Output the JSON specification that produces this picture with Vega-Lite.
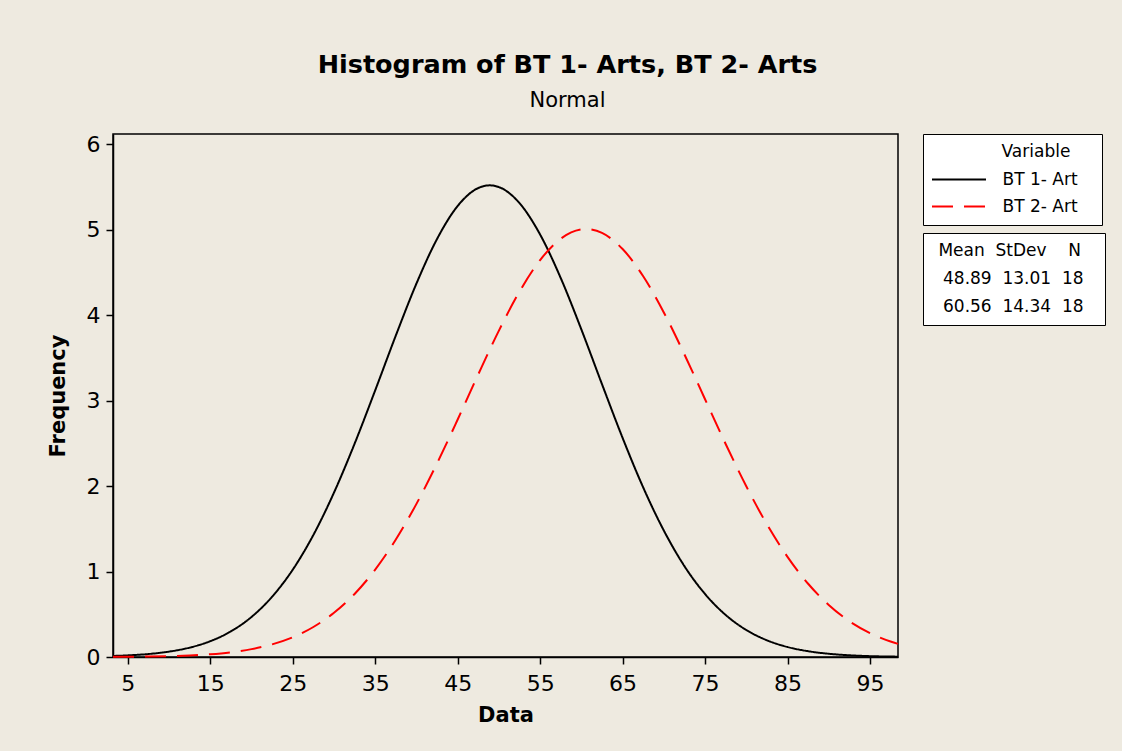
{
  "$schema": "https://vega.github.io/schema/vega-lite/v6.json",
  "autosize": {"type": "none"},
  "padding": {"left": 113, "top": 134, "right": 224, "bottom": 94},
  "width": 785,
  "height": 523,
  "background": "#EEEAE0",
  "title": {
    "text": "Histogram of BT 1- Arts, BT 2- Arts",
    "subtitle": "Normal",
    "anchor": "middle",
    "frame": "group",
    "dx": 62,
    "offset": 22,
    "font": "DejaVu Sans",
    "fontSize": 25.5,
    "fontWeight": "bold",
    "color": "black",
    "subtitleFont": "DejaVu Sans",
    "subtitleFontSize": 21,
    "subtitleColor": "black",
    "subtitlePadding": 12
  },
  "config": {
    "font": "DejaVu Sans",
    "view": {"stroke": "black", "strokeWidth": 1.5, "fill": "white"},
    "axis": {
      "grid": false,
      "domainColor": "black",
      "domainWidth": 1.5,
      "tickColor": "black",
      "tickWidth": 1.5,
      "tickSize": 7,
      "labelColor": "black",
      "labelFont": "DejaVu Sans",
      "labelFontSize": 22,
      "titleColor": "black",
      "titleFont": "DejaVu Sans",
      "titleFontSize": 21,
      "titleFontWeight": "bold"
    },
    "legend": {
      "orient": "right",
      "offset": 21,
      "strokeColor": "black",
      "fillColor": "white",
      "padding": 10,
      "labelFont": "DejaVu Sans",
      "labelFontSize": 17,
      "labelColor": "black",
      "titleFont": "DejaVu Sans",
      "titleFontSize": 17,
      "titleFontWeight": "normal",
      "titleColor": "black"
    }
  },
  "layer": [
    {
      "data": {
        "values": [
          {"x": 3.2, "y": 0.012, "Variable": "BT 1- Art"},
          {"x": 5, "y": 0.019, "Variable": "BT 1- Art"},
          {"x": 7.5, "y": 0.035, "Variable": "BT 1- Art"},
          {"x": 10, "y": 0.063, "Variable": "BT 1- Art"},
          {"x": 12.5, "y": 0.110, "Variable": "BT 1- Art"},
          {"x": 15, "y": 0.185, "Variable": "BT 1- Art"},
          {"x": 17.5, "y": 0.300, "Variable": "BT 1- Art"},
          {"x": 20, "y": 0.469, "Variable": "BT 1- Art"},
          {"x": 22.5, "y": 0.706, "Variable": "BT 1- Art"},
          {"x": 25, "y": 1.022, "Variable": "BT 1- Art"},
          {"x": 27.5, "y": 1.428, "Variable": "BT 1- Art"},
          {"x": 30, "y": 1.924, "Variable": "BT 1- Art"},
          {"x": 32.5, "y": 2.496, "Variable": "BT 1- Art"},
          {"x": 35, "y": 3.121, "Variable": "BT 1- Art"},
          {"x": 37.5, "y": 3.762, "Variable": "BT 1- Art"},
          {"x": 40, "y": 4.370, "Variable": "BT 1- Art"},
          {"x": 42.5, "y": 4.892, "Variable": "BT 1- Art"},
          {"x": 45, "y": 5.278, "Variable": "BT 1- Art"},
          {"x": 47.5, "y": 5.488, "Variable": "BT 1- Art"},
          {"x": 48.89, "y": 5.519, "Variable": "BT 1- Art"},
          {"x": 50, "y": 5.499, "Variable": "BT 1- Art"},
          {"x": 52.5, "y": 5.311, "Variable": "BT 1- Art"},
          {"x": 55, "y": 4.943, "Variable": "BT 1- Art"},
          {"x": 57.5, "y": 4.434, "Variable": "BT 1- Art"},
          {"x": 60, "y": 3.833, "Variable": "BT 1- Art"},
          {"x": 62.5, "y": 3.193, "Variable": "BT 1- Art"},
          {"x": 65, "y": 2.564, "Variable": "BT 1- Art"},
          {"x": 67.5, "y": 1.984, "Variable": "BT 1- Art"},
          {"x": 70, "y": 1.480, "Variable": "BT 1- Art"},
          {"x": 72.5, "y": 1.063, "Variable": "BT 1- Art"},
          {"x": 75, "y": 0.737, "Variable": "BT 1- Art"},
          {"x": 77.5, "y": 0.492, "Variable": "BT 1- Art"},
          {"x": 80, "y": 0.316, "Variable": "BT 1- Art"},
          {"x": 82.5, "y": 0.196, "Variable": "BT 1- Art"},
          {"x": 85, "y": 0.117, "Variable": "BT 1- Art"},
          {"x": 87.5, "y": 0.068, "Variable": "BT 1- Art"},
          {"x": 90, "y": 0.038, "Variable": "BT 1- Art"},
          {"x": 92.5, "y": 0.020, "Variable": "BT 1- Art"},
          {"x": 95, "y": 0.010, "Variable": "BT 1- Art"},
          {"x": 97.5, "y": 0.005, "Variable": "BT 1- Art"},
          {"x": 98.4, "y": 0.004, "Variable": "BT 1- Art"},
          {"x": 3.2, "y": 0.002, "Variable": "BT 2- Art"},
          {"x": 5, "y": 0.003, "Variable": "BT 2- Art"},
          {"x": 7.5, "y": 0.005, "Variable": "BT 2- Art"},
          {"x": 10, "y": 0.010, "Variable": "BT 2- Art"},
          {"x": 12.5, "y": 0.018, "Variable": "BT 2- Art"},
          {"x": 15, "y": 0.032, "Variable": "BT 2- Art"},
          {"x": 17.5, "y": 0.055, "Variable": "BT 2- Art"},
          {"x": 20, "y": 0.092, "Variable": "BT 2- Art"},
          {"x": 22.5, "y": 0.148, "Variable": "BT 2- Art"},
          {"x": 25, "y": 0.231, "Variable": "BT 2- Art"},
          {"x": 27.5, "y": 0.351, "Variable": "BT 2- Art"},
          {"x": 30, "y": 0.517, "Variable": "BT 2- Art"},
          {"x": 32.5, "y": 0.738, "Variable": "BT 2- Art"},
          {"x": 35, "y": 1.023, "Variable": "BT 2- Art"},
          {"x": 37.5, "y": 1.375, "Variable": "BT 2- Art"},
          {"x": 40, "y": 1.792, "Variable": "BT 2- Art"},
          {"x": 42.5, "y": 2.266, "Variable": "BT 2- Art"},
          {"x": 45, "y": 2.779, "Variable": "BT 2- Art"},
          {"x": 47.5, "y": 3.308, "Variable": "BT 2- Art"},
          {"x": 50, "y": 3.819, "Variable": "BT 2- Art"},
          {"x": 52.5, "y": 4.276, "Variable": "BT 2- Art"},
          {"x": 55, "y": 4.645, "Variable": "BT 2- Art"},
          {"x": 57.5, "y": 4.895, "Variable": "BT 2- Art"},
          {"x": 60, "y": 5.004, "Variable": "BT 2- Art"},
          {"x": 60.56, "y": 5.008, "Variable": "BT 2- Art"},
          {"x": 62.5, "y": 4.962, "Variable": "BT 2- Art"},
          {"x": 65, "y": 4.774, "Variable": "BT 2- Art"},
          {"x": 67.5, "y": 4.455, "Variable": "BT 2- Art"},
          {"x": 70, "y": 4.032, "Variable": "BT 2- Art"},
          {"x": 72.5, "y": 3.541, "Variable": "BT 2- Art"},
          {"x": 75, "y": 3.016, "Variable": "BT 2- Art"},
          {"x": 77.5, "y": 2.493, "Variable": "BT 2- Art"},
          {"x": 80, "y": 1.998, "Variable": "BT 2- Art"},
          {"x": 82.5, "y": 1.553, "Variable": "BT 2- Art"},
          {"x": 85, "y": 1.172, "Variable": "BT 2- Art"},
          {"x": 87.5, "y": 0.857, "Variable": "BT 2- Art"},
          {"x": 90, "y": 0.609, "Variable": "BT 2- Art"},
          {"x": 92.5, "y": 0.419, "Variable": "BT 2- Art"},
          {"x": 95, "y": 0.280, "Variable": "BT 2- Art"},
          {"x": 97.5, "y": 0.181, "Variable": "BT 2- Art"},
          {"x": 98.4, "y": 0.154, "Variable": "BT 2- Art"}
        ]
      },
      "mark": {"type": "line", "strokeWidth": 2, "interpolate": "monotone"},
      "encoding": {
        "x": {
          "field": "x", "type": "quantitative",
          "scale": {"domain": [3.2, 98.4], "nice": false, "zero": false},
          "axis": {"title": "Data", "values": [5, 15, 25, 35, 45, 55, 65, 75, 85, 95], "labelPadding": 9, "titlePadding": 10}
        },
        "y": {
          "field": "y", "type": "quantitative",
          "scale": {"domain": [0, 6.12], "nice": false},
          "axis": {"title": "Frequency", "values": [0, 1, 2, 3, 4, 5, 6], "labelPadding": 6, "titlePadding": 18}
        },
        "color": {
          "field": "Variable", "type": "nominal",
          "scale": {"domain": ["BT 1- Art", "BT 2- Art"], "range": ["#000000", "#FF0000"]},
          "legend": {
            "title": "Variable\u00a0\u00a0\u00a0\u00a0\u200b",
            "titleAnchor": "end",
            "titlePadding": 10,
            "symbolType": "M-3.6,0H3.6",
            "symbolSize": 225,
            "symbolStrokeWidth": 2,
            "symbolOffset": 17.5,
            "labelOffset": 35,
            "rowPadding": 9,
            "labelExpr": "datum.label + '\u00a0\u00a0\u2009\u200b'"
          }
        },
        "strokeDash": {
          "field": "Variable", "type": "nominal",
          "scale": {"domain": ["BT 1- Art", "BT 2- Art"], "range": [[1, 0], [21, 11]]},
          "legend": {
            "title": "Variable\u00a0\u00a0\u00a0\u00a0\u200b",
            "titleAnchor": "end",
            "titlePadding": 10,
            "symbolType": "M-3.6,0H3.6",
            "symbolSize": 225,
            "symbolStrokeWidth": 2,
            "symbolOffset": 17.5,
            "labelOffset": 35,
            "rowPadding": 9,
            "labelExpr": "datum.label + '\u00a0\u00a0\u2009\u200b'"
          }
        }
      }
    },
    {
      "data": {
        "values": [
          {"stats": "48.89\u00a0\u00a013.01\u00a0\u00a018"},
          {"stats": "60.56\u00a0\u00a014.34\u00a0\u00a018"}
        ]
      },
      "mark": {"type": "point", "opacity": 0},
      "encoding": {
        "shape": {
          "field": "stats", "type": "nominal",
          "legend": {
            "title": "\u200b\u00a0Mean\u00a0\u00a0StDev\u00a0\u00a0\u00a0\u00a0N",
            "titlePadding": 10,
            "symbolSize": 0,
            "symbolOpacity": 0,
            "symbolStrokeWidth": 0,
            "labelOffset": -7,
            "rowPadding": 10,
            "labelExpr": "datum.label + '\u00a0\u00a0\u200b'"
          }
        }
      }
    }
  ]
}
